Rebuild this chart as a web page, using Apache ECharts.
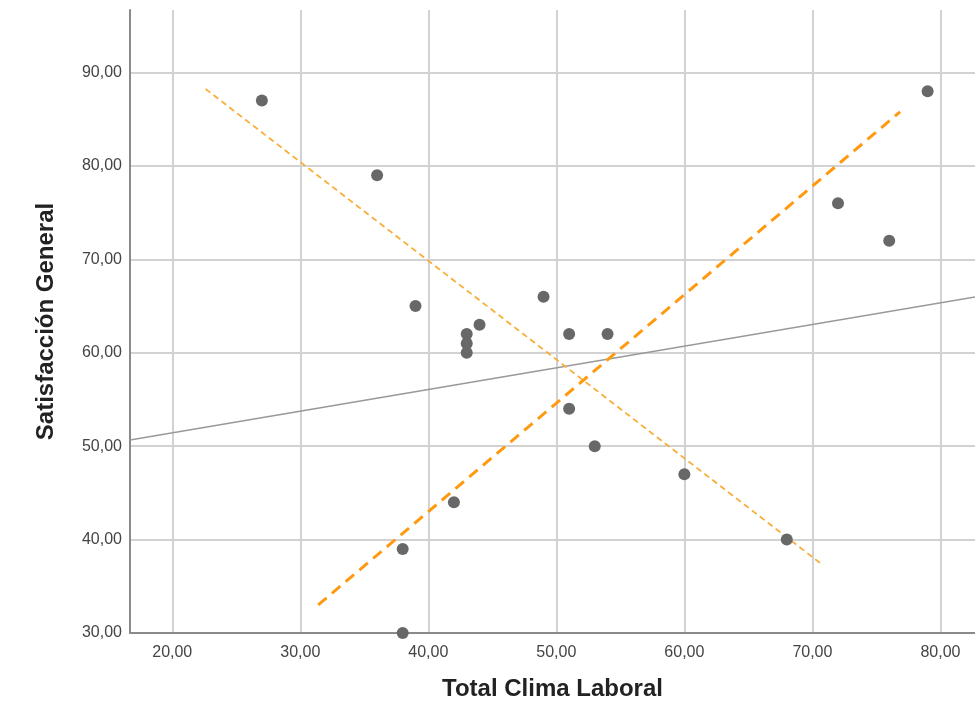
<!DOCTYPE html>
<html>
<head>
<meta charset="utf-8">
<script src="https://cdn.jsdelivr.net/npm/echarts@6/dist/echarts.min.js"></script>
<style>
  html, body { margin: 0; padding: 0; background: #fff; }
  #chart { width: 975px; height: 709px; }
</style>
</head>
<body>
<div id="chart"></div>
<script>
// puntos (Total Clima Laboral, Satisfaccion General)
var climaVals = [27, 36, 39, 43, 43, 43, 44, 49, 51, 54, 51, 53, 60, 68, 72, 76, 79, 42, 38, 38];
var satisVals = [87, 79, 65, 62, 61, 60, 63, 66, 62, 62, 54, 50, 47, 40, 76, 72, 88, 44, 39, 30];

// linea de ajuste gris
var fitX = [16.7, 82.7];
var fitY = [50.67, 65.98];

// lineas naranjas
var thickX = [31.4, 76.85];
var thickY = [33.0, 85.8];
var thinX = [22.6, 70.6];
var thinY = [88.25, 37.5];

function pairs(xs, ys) {
    var out = [];
    for (var i = 0; i < xs.length; i++) out.push([xs[i], ys[i]]);
    return out;
}

function fmt(v) {
    if (Math.abs(v % 10) > 0.001) return '';
    return v.toFixed(2).replace('.', ',');
}

var chart = echarts.init(document.getElementById('chart'));

var option = {
    animation: false,
    backgroundColor: '#fff',
    grid: {
        left: 130,
        top: 10,
        right: 0,
        bottom: 76,
        containLabel: false,
        outerBoundsMode: 'none'
    },
    xAxis: {
        type: 'value',
        min: 16.7,
        max: 82.7,
        splitNumber: 7,
        name: 'Total Clima Laboral',
        nameLocation: 'middle',
        nameGap: 44,
        nameTextStyle: { fontFamily: 'Liberation Sans', fontWeight: 'bold', fontSize: 24, color: '#222' },
        axisLine: { show: true, lineStyle: { color: '#8a8a8a', width: 2 } },
        axisTick: { show: false },
        axisLabel: {
            formatter: fmt,
            showMinLabel: false,
            showMaxLabel: false,
            margin: 12,
            fontFamily: 'Liberation Sans',
            fontSize: 16,
            color: '#444'
        },
        splitLine: {
            show: true,
            showMinLine: false,
            showMaxLine: false,
            lineStyle: { color: '#d2d2d2', width: 2 }
        }
    },
    yAxis: {
        type: 'value',
        min: 30,
        max: 96.7,
        splitNumber: 7,
        name: 'Satisfacción General',
        nameLocation: 'middle',
        nameRotate: 90,
        nameGap: 72,
        nameTextStyle: { fontFamily: 'Liberation Sans', fontWeight: 'bold', fontSize: 24, color: '#222' },
        axisLine: { show: true, lineStyle: { color: '#8a8a8a', width: 2 } },
        axisTick: { show: false },
        axisLabel: {
            formatter: fmt,
            showMaxLabel: false,
            margin: 8,
            fontFamily: 'Liberation Sans',
            fontSize: 16,
            color: '#444'
        },
        splitLine: {
            show: true,
            showMinLine: false,
            showMaxLine: false,
            lineStyle: { color: '#d2d2d2', width: 2 }
        }
    },
    series: [
        {
            type: 'line',
            data: pairs(fitX, fitY),
            symbol: 'none',
            lineStyle: { color: '#999', width: 1.5 },
            z: 3
        },
        {
            type: 'line',
            data: pairs(thinX, thinY),
            symbol: 'none',
            lineStyle: { color: '#f9ae3a', width: 1.8, type: [6, 4] },
            z: 3
        },
        {
            type: 'line',
            data: pairs(thickX, thickY),
            symbol: 'none',
            lineStyle: { color: '#ff9a10', width: 3, type: [11, 7] },
            z: 3
        },
        {
            type: 'scatter',
            data: pairs(climaVals, satisVals),
            symbolSize: 12,
            clip: false,
            itemStyle: { color: '#686868', opacity: 1 },
            z: 4
        }
    ]
};

chart.setOption(option);
</script>
</body>
</html>
